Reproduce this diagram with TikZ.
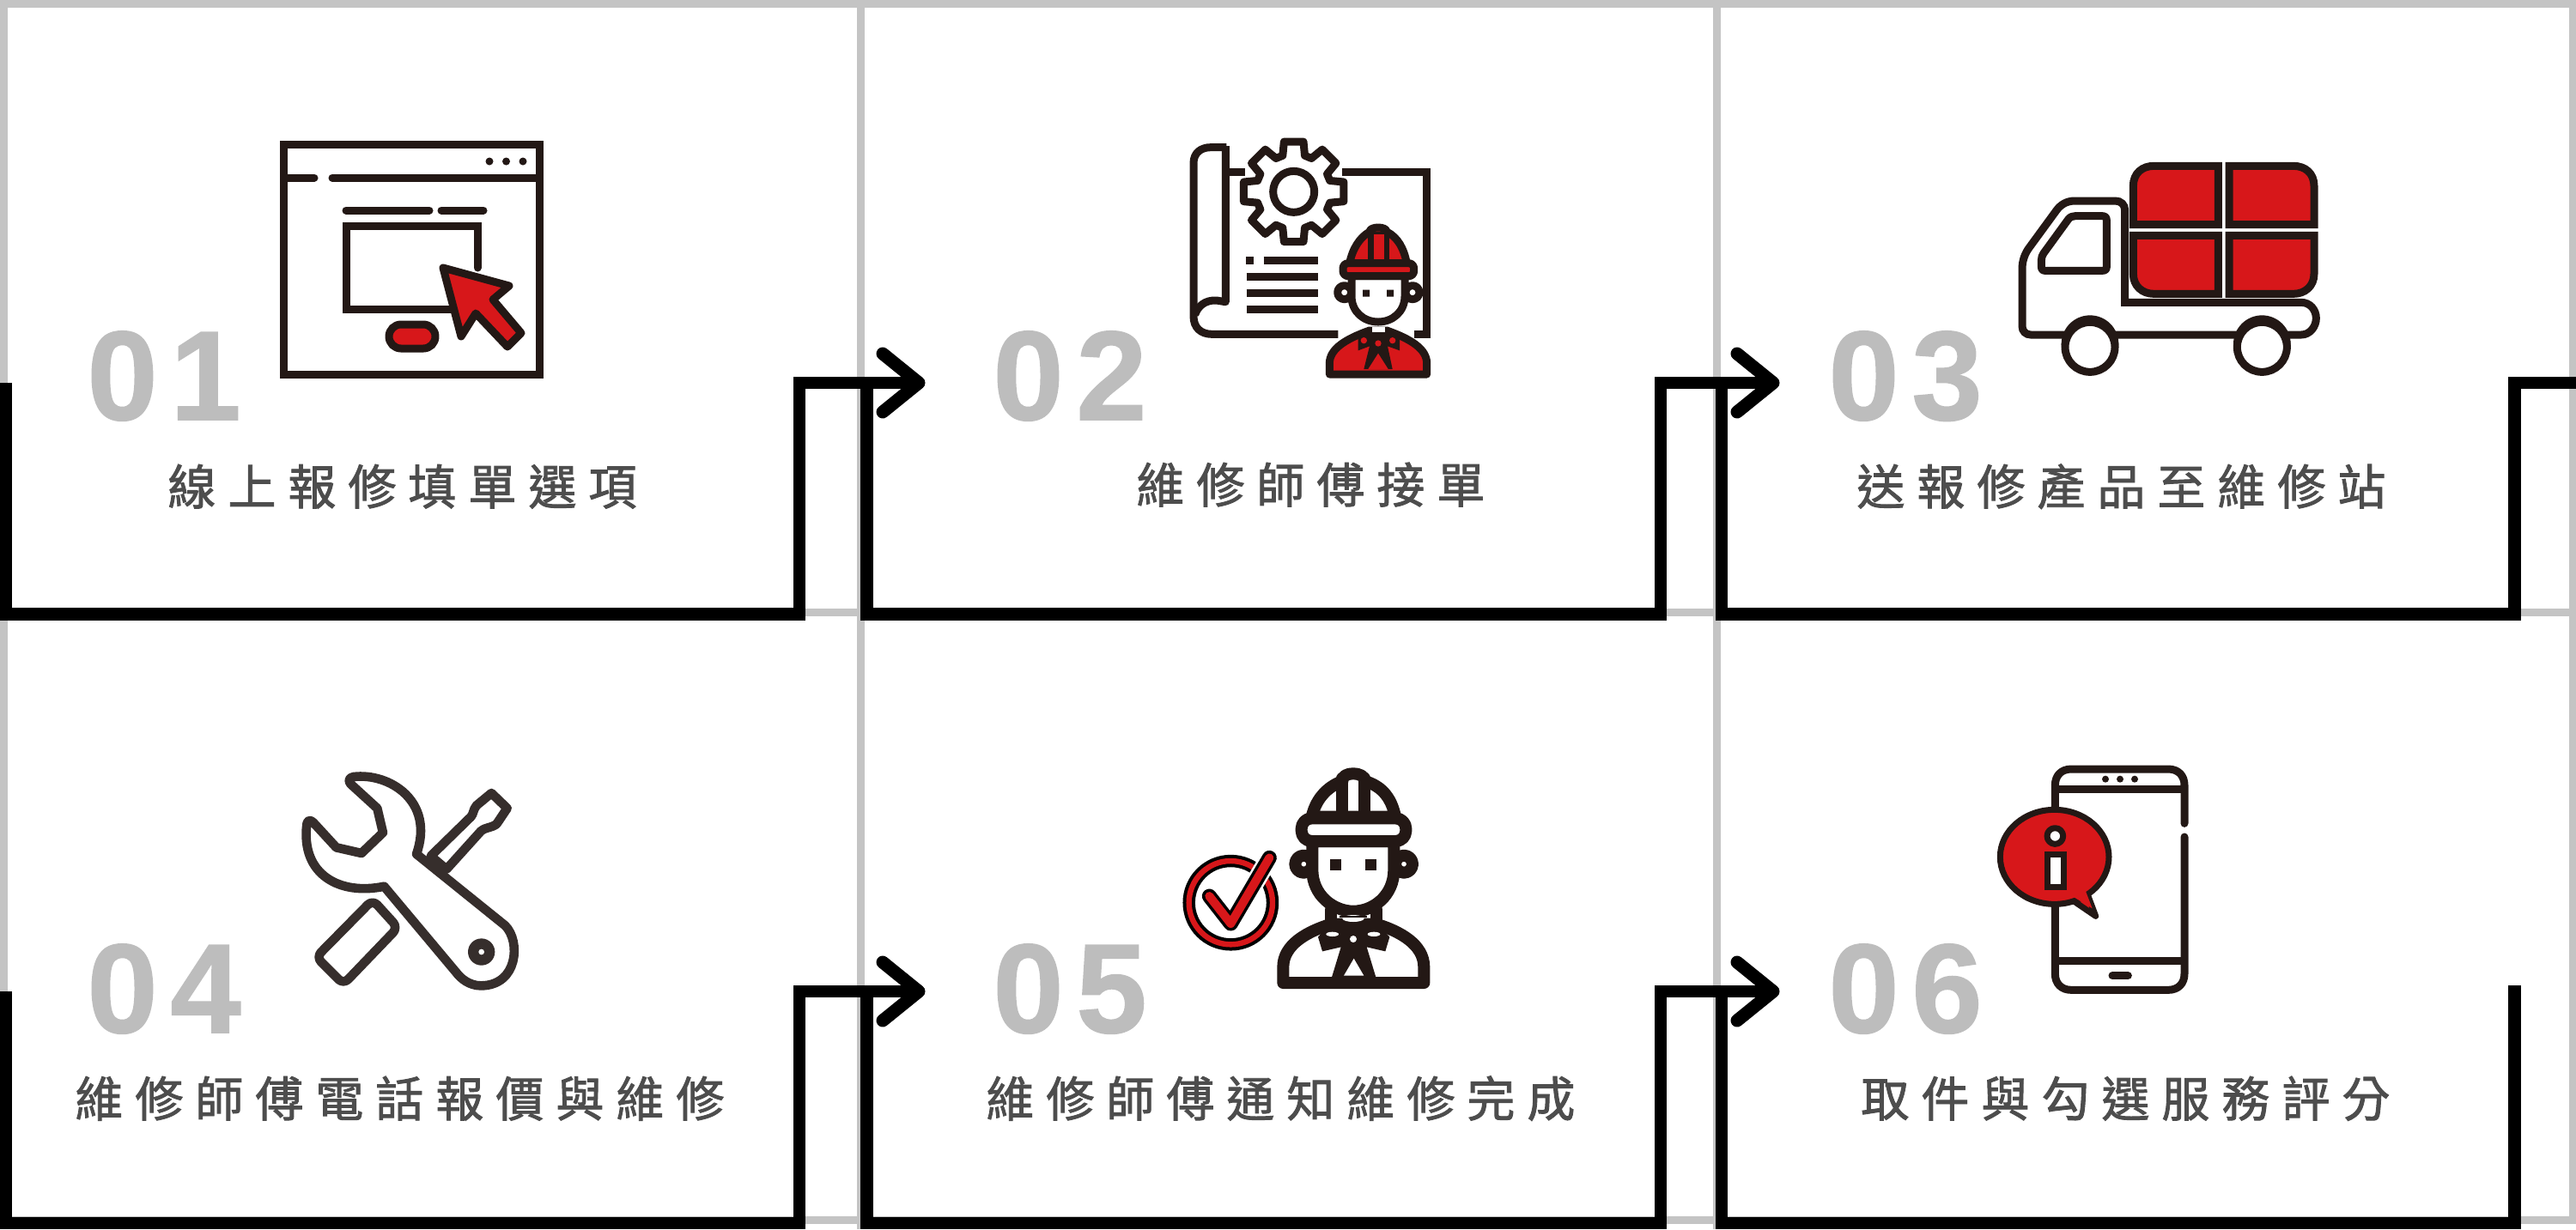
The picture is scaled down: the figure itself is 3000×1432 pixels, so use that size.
\documentclass[tikz,border=0pt]{standalone}
\usepackage{fontspec}
\setmainfont{Liberation Sans}
\newfontfamily\cjk[LetterSpace=25,FakeBold=1.6]{Noto Sans CJK TC}
\newfontfamily\numf[LetterSpace=10,FakeBold=1]{Liberation Sans Bold}
\definecolor{ink}{HTML}{231815}
\definecolor{ink2}{HTML}{362E2C}
\definecolor{redf}{HTML}{D7171A}
\definecolor{gridg}{HTML}{C4C4C4}
\definecolor{numg}{HTML}{BDBDBD}
\definecolor{txtg}{HTML}{4D4D4D}
\tikzset{
 gridline/.style={draw=gridg,line width=4.5pt},
 flowline/.style={draw=black,line width=7.25pt,miter limit=10},
 headline/.style={draw=black,line width=7.5pt,line cap=round,line join=round},
 ic/.style={draw=ink,line width=4.5pt,line join=round,line cap=round},
 label/.style={anchor=base west,inner sep=0pt,text=txtg,font=\fontsize{28}{30}\selectfont\cjk},
 num/.style={anchor=base west,inner sep=0pt,text=numg,font=\fontsize{74}{76}\selectfont\numf},
 zoomed/.style={x=.16667pt,y=-.16667pt}
}
\begin{document}
\begin{tikzpicture}[x=.5pt,y=-.5pt]
\useasboundingbox[fill=white] (0,0) rectangle (3000,1432);
% grid
\draw[gridline] (0,4) -- (3000,4);
\draw[gridline] (0,713) -- (3000,713);
\draw[gridline] (0,1421) -- (3000,1421);
\draw[gridline] (4,0) -- (4,1432);
\draw[gridline] (1002.5,0) -- (1002.5,1432);
\draw[gridline] (1999,0) -- (1999,1432);
\draw[gridline] (2996,0) -- (2996,1425);
% flow coordinates
\coordinate (s1) at (7,446);   \coordinate (b1) at (7,715.5); \coordinate (c1) at (931,715.5); \coordinate (u1) at (931,446); \coordinate (t1) at (1070,446);
\coordinate (s2) at (1009.5,446); \coordinate (b2) at (1009.5,715.5); \coordinate (c2) at (1934,715.5); \coordinate (u2) at (1934,446); \coordinate (t2) at (2065,446);
\coordinate (s3) at (2005,446); \coordinate (b3) at (2005,715.5); \coordinate (c3) at (2928.5,715.5); \coordinate (u3) at (2928.5,446); \coordinate (t3) at (3000,446);
\coordinate (s4) at (7,1155);   \coordinate (b4) at (7,1425); \coordinate (c4) at (931,1425); \coordinate (u4) at (931,1155); \coordinate (t4) at (1070,1155);
\coordinate (s5) at (1009.5,1155); \coordinate (b5) at (1009.5,1425); \coordinate (c5) at (1934,1425); \coordinate (u5) at (1934,1155); \coordinate (t5) at (2065,1155);
\coordinate (s6) at (2005,1155); \coordinate (b6) at (2005,1425); \coordinate (c6) at (2928.5,1425); \coordinate (u6) at (2928.5,1148);
\draw[flowline] (s1) -- (b1) -- (c1) -- (u1) -- (t1);
\draw[flowline] (s2) -- (b2) -- (c2) -- (u2) -- (t2);
\draw[flowline] (s3) -- (b3) -- (c3) -- (u3) -- (t3);
\draw[flowline] (s4) -- (b4) -- (c4) -- (u4) -- (t4);
\draw[flowline] (s5) -- (b5) -- (c5) -- (u5) -- (t5);
\draw[flowline] (s6) -- (b6) -- (c6) -- (u6);
\foreach \t in {t1,t2,t4,t5}{
  \draw[headline] ([shift={(-42,-34)}]\t) -- (\t) -- ([shift={(-42,34)}]\t);
}
% numbers
\node[num] (n1) at (101,489) {01};
\node[num] (n2) at (1156,489) {02};
\node[num] (n3) at (2129,489) {03};
\node[num] (n4) at (101,1203) {04};
\node[num] (n5) at (1156,1203) {05};
\node[num] (n6) at (2129,1203) {06};
% labels
\node[label] (l1) at (195,588) {線上報修填單選項};
\node[label] (l2) at (1323,586) {維修師傅接單};
\node[label] (l3) at (2162,588) {送報修產品至維修站};
\node[label] (l4) at (87,1301) {維修師傅電話報價與維修};
\node[label] (l5) at (1148,1301) {維修師傅通知維修完成};
\node[label] (l6) at (2167,1301) {取件與勾選服務評分};
% ---------- icon 1: window
\begin{scope}[every path/.append style={line width=5pt}]
\draw[ic,line cap=butt,miter limit=10,line join=miter] (330,168.5) rectangle (628,436);
\draw[ic] (332,207) -- (366,207) (387,207) -- (626,207);
\draw[ic] (403,245) -- (500,245) (514,245) -- (563,245);
\draw[ic,line join=miter] (556,312) -- (556,263) -- (403.5,263) -- (403.5,360) -- (525,360);
\draw[ic,fill=redf] (516,312) -- (593,333) -- (574,349) -- (607,388) -- (591,404) -- (554,365) -- (537,392) -- cycle;
\draw[ic,fill=redf,rounded corners=7pt] (453,378) rectangle (507,406);
\end{scope}
\fill[ink] (570,188) circle (4.5) (589.5,188) circle (4.5) (609,188) circle (4.5);
% ---------- icon 2: blueprint and engineer
\begin{scope}[shift={(1300,130)},zoomed]
 \draw[ic,line cap=butt] (385,125) -- (330,125) .. controls (295,125) and (270,145) .. (270,180) -- (270,715) .. controls (270,755) and (295,778) .. (335,778) -- (775,778);
 \draw[ic,line cap=butt] (382,120) -- (382,665) -- (350,660) .. controls (310,658) and (285,680) .. (275,710);
 \draw[ic,line cap=butt] (395,212) -- (450,212);
 \draw[ic,line cap=butt,line join=miter] (790,212) -- (1085,212) -- (1085,778) -- (1040,778);
 \def\gearpath{}
 \foreach \a in {0,45,...,315}{\xdef\gearpath{\gearpath (\a-17:132) -- (\a-11:178) -- (\a+11:178) -- (\a+17:132) -- }}
 \begin{scope}[shift={(620,280)}]
  \draw[ic,fill=white] \gearpath cycle;
  \draw[ic] (0,0) circle (72);
 \end{scope}
 \fill[ink] (453,508) rectangle (480,534);
 \draw[ic,line cap=butt] (515,521) -- (705,521) (455,578) -- (705,578) (455,635) -- (705,635) (455,690) -- (705,690);
 % ears
 \draw[ic,fill=white] (797,632) circle (24) (1035,632) circle (24);
 % head
 \draw[ic,fill=white] (822,575) -- (822,645) .. controls (822,700) and (865,735) .. (915,735) .. controls (965,735) and (1008,700) .. (1008,645) -- (1008,575) -- cycle;
 \fill[ink] (861,623) rectangle (885,647) (945,623) rectangle (969,647);
 % helmet
 \draw[ic,fill=redf] (815,530) .. controls (825,480) and (850,440) .. (885,420) .. controls (885,400) and (945,400) .. (945,420) .. controls (985,440) and (1005,480) .. (1015,530) -- cycle;
 \fill[ink] (880,420) rectangle (955,530);
 \fill[redf] (899,428) rectangle (935,530);
 \draw[ic,fill=redf,rounded corners=3pt] (792,530) rectangle (1040,575);
 % body
 \draw[ic,fill=redf] (745,918) -- (745,880) .. controls (745,830) and (800,795) .. (885,765) -- (945,765) .. controls (1030,795) and (1085,830) .. (1085,880) -- (1085,918) -- cycle;
 \fill[ink] (845,790) -- (880,765) -- (950,765) -- (990,790) -- (990,835) -- (948,820) -- (965,900) -- (865,900) -- (885,820) -- (845,835) -- cycle;
 \fill[white] (895,752) rectangle (940,770);
 \fill[redf] (880,900) -- (915,845) -- (950,900) -- cycle (915,810) circle (11) (865,800) circle (11) (965,800) circle (11);
\end{scope}
% ---------- icon 3: truck
\begin{scope}[shift={(2300,160)},zoomed,every path/.append style={line width=4pt}]
 \draw[ic,fill=redf,line join=miter,line cap=butt] (553,305) -- (553,170) .. controls (553,125) and (585,100) .. (625,100) -- (850,100) -- (850,305) -- cycle;
 \draw[ic,fill=redf,line join=miter,line cap=butt] (888,100) -- (1113,100) .. controls (1153,100) and (1185,125) .. (1185,170) -- (1185,305) -- (888,305) -- cycle;
 \draw[ic,fill=redf,line join=miter,line cap=butt] (553,343) -- (850,343) -- (850,547) -- (625,547) .. controls (585,547) and (553,520) .. (553,477) -- cycle;
 \draw[ic,fill=redf,line join=miter,line cap=butt] (888,343) -- (1185,343) -- (1185,477) .. controls (1185,520) and (1153,547) .. (1113,547) -- (888,547) -- cycle;
 \draw[ic,line join=miter] (524,577) -- (524,255) .. controls (524,235) and (510,222) .. (490,222) -- (350,222) .. controls (320,222) and (300,235) .. (285,255) -- (190,385) .. controls (175,405) and (165,430) .. (165,460) -- (165,660) .. controls (165,678) and (178,690) .. (195,690) -- (1140,690) .. controls (1170,690) and (1192,662) .. (1192,632) .. controls (1192,602) and (1170,577) .. (1140,577) -- cycle;
 \draw[ic] (350,275) -- (445,275) .. controls (455,275) and (460,280) .. (460,290) -- (460,452) .. controls (460,462) and (455,466) .. (445,466) -- (245,466) .. controls (235,466) and (232,460) .. (232,450) -- (232,430) .. controls (232,420) and (235,412) .. (240,405) -- (325,288) .. controls (332,278) and (340,275) .. (350,275) -- cycle;
 \fill[ink,draw=none] (402,722) circle (100) (1003,722) circle (100);
 \draw[ic,fill=white] (402,733) circle (87) (1003,733) circle (87);
\end{scope}
% ---------- icon 4: tools
\begin{scope}[shift={(320,870)},zoomed]
 \begin{scope}[every path/.append style={draw=ink2,line width=5.3pt,line join=round,line cap=round}]
 \draw[fill=white] (545,382) -- (685,245) .. controls (695,235) and (692,220) .. (705,205) -- (757,162) -- (812,215) -- (775,270) .. controls (755,285) and (738,280) .. (720,295) -- (600,428) -- cycle;
 \draw[fill=white,rounded corners=4pt] (342,535) -- (430,632) -- (240,830) -- (145,735) -- cycle;
 \draw[fill=white] (275,105) .. controls (400,90) and (560,190) .. (495,375) -- (805,625) .. controls (860,680) and (850,835) .. (720,835) .. controls (680,835) and (650,810) .. (635,790) -- (382,488) .. controls (230,520) and (90,450) .. (112,270) .. controls (115,255) and (125,255) .. (135,265) -- (215,352) -- (303,372) -- (378,300) -- (358,215) -- (265,130) .. controls (255,118) and (260,108) .. (275,105) -- cycle;
 \end{scope}
 \fill[ink2] (722,717) circle (47);
 \fill[white] (722,717) circle (10);
\end{scope}
% ---------- icon 5: engineer with check
\begin{scope}[shift={(1350,870)},zoomed]
 \begin{scope}[every path/.append style={draw=ink,line width=7pt,line join=round,line cap=round}]
 \draw[fill=white] (505,410) circle (30) (855,410) circle (30);
 \draw[fill=white] (535,330) -- (535,430) .. controls (535,520) and (610,575) .. (678,575) .. controls (748,575) and (820,520) .. (820,430) -- (820,330) -- cycle;
 \draw[fill=white] (533,245) .. controls (550,170) and (600,135) .. (640,120) .. controls (635,85) and (720,85) .. (718,120) .. controls (770,135) and (810,170) .. (825,245) -- cycle;
 \draw (640,110) -- (640,240) (718,110) -- (718,240);
 \draw[fill=white,rounded corners=6pt] (497,250) rectangle (862,330);
 \draw (600,570) -- (600,620) (760,570) -- (760,620);
 \draw[fill=white] (433,825) -- (433,770) .. controls (433,690) and (520,645) .. (600,620) -- (760,620) .. controls (840,645) and (925,690) .. (925,770) -- (925,825) -- cycle;
 \end{scope}
 \fill[ink] (597,392) rectangle ++(40,40);
 \fill[ink] (720,392) rectangle ++(40,40);
 \fill[ink] (555,665) -- (600,615) -- (760,615) -- (805,665) -- (790,715) -- (725,700) -- (760,815) -- (600,815) -- (635,700) -- (570,715) -- cycle;
 \fill[white] (678,600) ellipse (38 and 12);
 \fill[ink] (630,590) rectangle (726,598);
 \fill[white] (605,655) ellipse (22 and 8) (750,655) ellipse (22 and 8) (678,672) circle (12);
 \fill[white] (680,740) -- (645,800) -- (715,800) -- cycle;
 % check
 \draw[draw=black,line width=7.2pt] (250,545) circle (146);
 \draw[draw=redf,line width=3.2pt] (250,545) circle (146);
 \draw[draw=white,line width=11pt,line cap=round,line join=round] (175,522) -- (250,618) -- (385,388);
 \draw[draw=black,line width=8.5pt,line cap=round,line join=round] (175,522) -- (250,618) -- (385,388);
 \draw[draw=redf,line width=5pt,line cap=round,line join=round] (175,522) -- (250,618) -- (385,388);
\end{scope}
% ---------- icon 6: phone
\begin{scope}[shift={(2290,870)},zoomed]
 \draw[ic] (762,268) -- (762,135) .. controls (762,100) and (740,78) .. (705,78) -- (367,78) .. controls (332,78) and (310,100) .. (310,135) -- (310,793) .. controls (310,828) and (332,850) .. (367,850) -- (705,850) .. controls (740,850) and (762,828) .. (762,793) -- (762,315);
 \draw[ic,line cap=butt] (310,148) -- (762,148) (310,748) -- (762,748);
 \fill[ink] (486,113) circle (12) (537,113) circle (12) (588,113) circle (12);
 \draw[ic] (510,800) -- (565,800);
 \draw[ic,fill=redf,line width=3.5pt] (370,536) -- (452,592) -- (425,520) -- cycle;
 \draw[ic,fill=redf,line width=3.5pt] (308,385) ellipse (190 and 165);
 \fill[redf] (375,525) -- (440,565) -- (415,500) -- cycle;
 \draw[ic,fill=white,line width=3.5pt] (310,312) circle (28);
 \draw[ic,fill=white,line width=3.5pt,line join=miter] (282,375) rectangle (340,490);
\end{scope}
\end{tikzpicture}
\end{document}
